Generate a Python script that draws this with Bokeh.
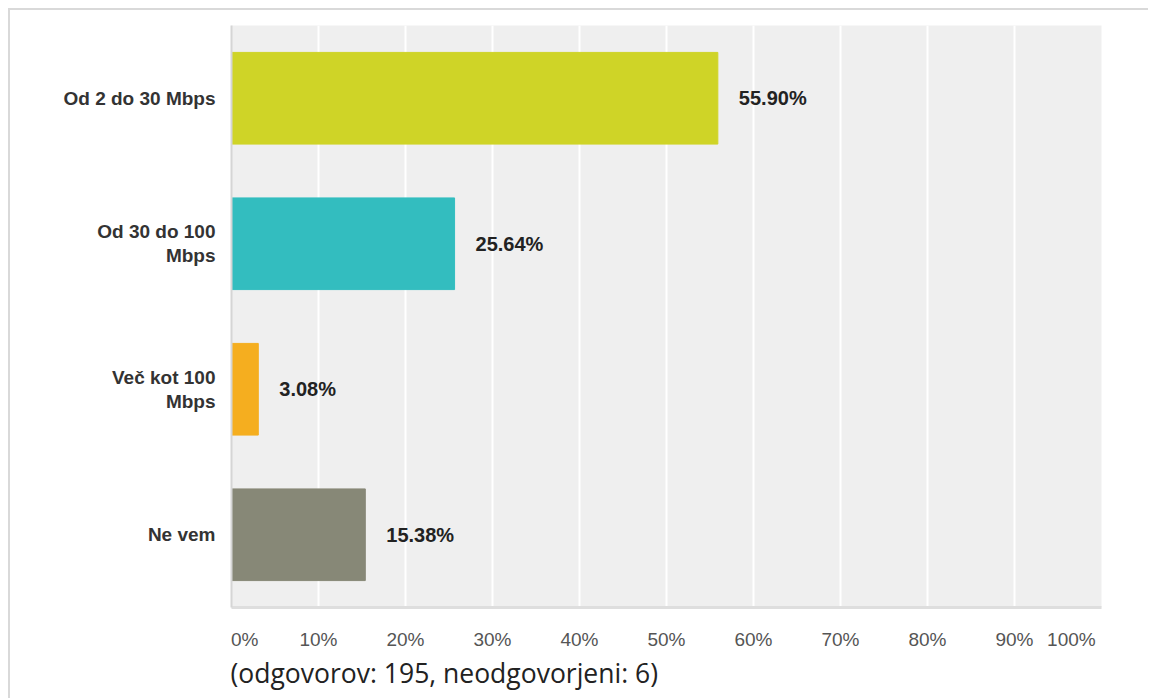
from bokeh.plotting import figure
from bokeh.models import FactorRange, Range1d, Title, ColumnDataSource
from bokeh.core.properties import value
from bokeh.embed import file_html
from bokeh.resources import INLINE

categories = ["Od 2 do 30 Mbps", "Od 30 do 100\nMbps", "Več kot 100\nMbps", "Ne vem"]
percents = [55.90, 25.64, 3.08, 15.38]
bar_colors = ["#CFD427", "#33BDBF", "#F5AE1F", "#878877"]
tick_values = [0, 10, 20, 30, 40, 50, 60, 70, 80, 90, 100]
footer = "(odgovorov: 195, neodgovorjeni: 6)"

src = ColumnDataSource(dict(
    cat=categories,
    val=percents,
    color=bar_colors,
    label=[f"{v:.2f}%" for v in percents],
))

p = figure(
    width=1148, height=698,
    y_range=FactorRange(factors=list(reversed(categories))),
    x_range=Range1d(0, 100),
    output_backend="svg", toolbar_location=None,
    min_border_left=231, min_border_top=25, min_border_right=47, min_border_bottom=91,
)
# thin light-grey frame lines (top and left) around the whole picture
p.styles = {
    "background-color": "white",
    "background-image": "linear-gradient(#d9d9d9,#d9d9d9), linear-gradient(#d9d9d9,#d9d9d9)",
    "background-position": "8px 8px, 8px 8px",
    "background-size": "100% 2px, 2px 100%",
    "background-repeat": "no-repeat",
}
p.background_fill_color = "#EFEFEF"
p.border_fill_color = None
p.outline_line_color = None

p.hbar(y="cat", right="val", left=0, height=0.63, color="color", source=src)
p.text(x="val", y="cat", text="label", source=src, x_offset=21,
       text_baseline="middle", text_align="left",
       text_font=value("Liberation Sans"), text_font_style="bold",
       text_font_size="20px", text_color="#222222")

# grid
p.ygrid.grid_line_color = None
p.xgrid.ticker = tick_values
p.xgrid.grid_line_color = "white"
p.xgrid.grid_line_width = 2

# x axis: first label pushed right, last label pushed left (as in the source)
NBSP = "\u00a0"
overrides = {}
for t in tick_values:
    txt = f"{t}%"
    if t == tick_values[0]:
        txt = NBSP * 5 + txt
    elif t == tick_values[-1]:
        txt = txt + NBSP * 10
    overrides[t] = txt
p.xaxis.ticker = tick_values
p.xaxis.major_label_overrides = overrides
p.xaxis.major_tick_line_color = None
p.xaxis.minor_tick_line_color = None
p.xaxis.axis_line_color = "#DEDEDE"
p.xaxis.axis_line_width = 3
p.xaxis.major_label_standoff = 15
p.xaxis.major_label_text_font = "Liberation Sans"
p.xaxis.major_label_text_font_size = "19px"
p.xaxis.major_label_text_color = "#555555"

# y axis
p.yaxis.major_tick_line_color = None
p.yaxis.minor_tick_line_color = None
p.yaxis.axis_line_color = "#D5D5D5"
p.yaxis.axis_line_width = 2
p.yaxis.major_label_standoff = 10
p.yaxis.major_label_text_font = "Liberation Sans"
p.yaxis.major_label_text_font_style = "bold"
p.yaxis.major_label_text_font_size = "19px"
p.yaxis.major_label_text_color = "#333333"
p.yaxis.major_label_text_line_height = 1.15

p.add_layout(Title(text=footer, align="left", offset=-1, standoff=0,
                   text_font="Open Sans", text_font_style="normal",
                   text_font_size="26.5px", text_color="#222222"), "below")

open("out.html", "w").write(file_html(p, INLINE))
